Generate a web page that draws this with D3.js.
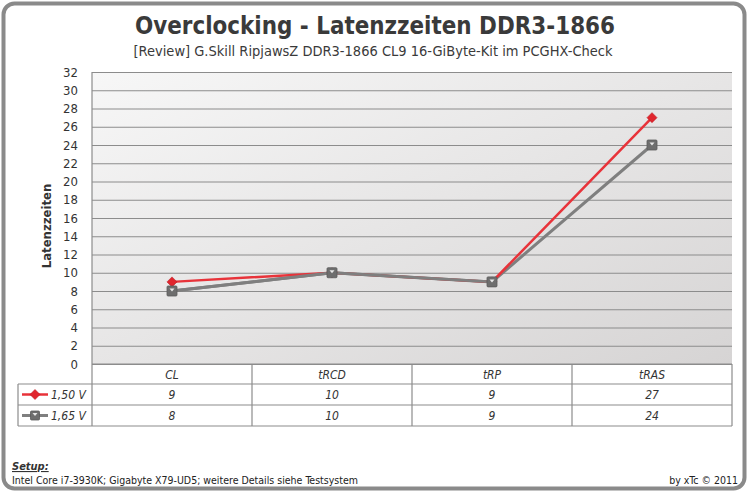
<!DOCTYPE html>
<html lang="en">
<head>
    <meta charset="UTF-8">
    <title>Overclocking - Latenzzeiten DDR3-1866</title>
    <script type='text/javascript' src='https://d3js.org/d3.v7.min.js'></script>
    <style>
        body { margin: 0; background: #fff; }
        text { font-family: "DejaVu Sans Condensed", "DejaVu Sans", sans-serif; fill: #333; }
    </style>
</head>
<body>
    <script>
        // data
        const categories = ["CL", "tRCD", "tRP", "tRAS"];
        const seriesNames = ["1,50 V", "1,65 V"];
        const values150 = [9, 10, 9, 27];
        const values165 = [8, 10, 9, 24];
        const yTicks = d3.range(0, 33, 2);

        const W = 749, H = 493;
        const plot = { left: 92, right: 732, top: 72, bottom: 364 };
        const rowH = 21;

        const svg = d3.select("body").append("svg")
            .attr("width", W).attr("height", H);

        // background gradient of the plot area
        const defs = svg.append("defs");
        const grad = defs.append("linearGradient").attr("id", "bg")
            .attr("x1", "0").attr("y1", "0").attr("x2", "1").attr("y2", "1");
        grad.append("stop").attr("offset", "0").attr("stop-color", "#f7f7f7");
        grad.append("stop").attr("offset", "1").attr("stop-color", "#d6d4d4");

        // outer frame
        svg.append("rect")
            .attr("x", 3.5).attr("y", 3.5).attr("width", 741).attr("height", 485)
            .attr("rx", 11).attr("fill", "#fff")
            .attr("stroke", "#8a8a8a").attr("stroke-width", 4);

        // title
        svg.append("text").attr("x", 375).attr("y", 34)
            .attr("text-anchor", "middle").attr("font-size", 25).attr("font-weight", "bold")
            .attr("textLength", 480).attr("lengthAdjust", "spacingAndGlyphs")
            .style("fill", "#3a3a3a")
            .text("Overclocking - Latenzzeiten DDR3-1866");
        svg.append("text").attr("x", 373).attr("y", 56)
            .attr("text-anchor", "middle").attr("font-size", 14)
            .attr("textLength", 479).attr("lengthAdjust", "spacingAndGlyphs")
            .style("fill", "#3a3a3a")
            .text("[Review] G.Skill RipjawsZ DDR3-1866 CL9 16-GiByte-Kit im PCGHX-Check");

        // scales
        const x = d3.scaleBand().domain(categories).range([plot.left, plot.right]);
        const y = d3.scaleLinear().domain([0, 32]).range([plot.bottom, plot.top]);

        svg.append("rect")
            .attr("x", plot.left).attr("y", plot.top)
            .attr("width", plot.right - plot.left).attr("height", plot.bottom - plot.top)
            .attr("fill", "url(#bg)");

        // gridlines + y axis
        const yAxis = svg.append("g")
            .attr("transform", "translate(" + plot.left + ",0)")
            .call(d3.axisLeft(y).tickValues(yTicks).tickSize(-(plot.right - plot.left)).tickPadding(14));
        yAxis.select(".domain").remove();
        yAxis.selectAll(".tick line").attr("stroke", "#8c8c8c").attr("stroke-width", 1.2);
        yAxis.selectAll(".tick text").attr("font-size", 13)
            .style("font-family", "'DejaVu Sans Condensed', sans-serif").style("fill", "#333");

        svg.append("line")
            .attr("x1", plot.left).attr("x2", plot.left)
            .attr("y1", plot.top).attr("y2", plot.bottom)
            .attr("stroke", "#8c8c8c").attr("stroke-width", 1.2);

        svg.append("text")
            .attr("transform", "translate(51," + ((plot.top + plot.bottom) / 2 + 8) + ") rotate(-90)")
            .attr("text-anchor", "middle").attr("font-size", 13).attr("font-weight", "bold")
            .text("Latenzzeiten");

        // lines
        const cx = d => x(d) + x.bandwidth() / 2;
        const line = d3.line().x((d, i) => cx(categories[i])).y(d => y(d));

        svg.append("path").datum(values165).attr("d", line)
            .attr("fill", "none").attr("stroke", "#7f7f7f").attr("stroke-width", 3);
        svg.append("path").datum(values150).attr("d", line)
            .attr("fill", "none").attr("stroke", "#e8333a").attr("stroke-width", 2.5);

        // the gray line sits on top of the red one where both share a value
        svg.append("path").datum(values165).attr("d", line)
            .attr("fill", "none").attr("stroke", "#7f7f7f").attr("stroke-width", 3)
            .attr("stroke-dasharray", function () {
                // only the first three segments overlay (CL->tRCD->tRP)
                const len = this.getTotalLength();
                const seg = Math.hypot(cx(categories[3]) - cx(categories[2]), y(values165[3]) - y(values165[2]));
                return (len - seg) + " " + (seg + 10);
            });

        // markers
        function square(g, px, py, s) {
            g.append("rect").attr("x", px - s / 2).attr("y", py - s / 2)
                .attr("width", s).attr("height", s).attr("rx", 1)
                .attr("fill", "#6e6e6e").attr("stroke", "#5a5a5a").attr("stroke-width", 0.8);
            g.append("path")
                .attr("d", "M" + (px - 2.5) + "," + (py - 2.5) + "L" + (px + 2.5) + "," + (py - 2.5) + "L" + px + "," + (py + 0.5) + "Z")
                .attr("fill", "#e8e8e8");
        }
        function diamond(g, px, py, s) {
            g.append("path")
                .attr("d", "M" + px + "," + (py - s) + "L" + (px + s) + "," + py + "L" + px + "," + (py + s) + "L" + (px - s) + "," + py + "Z")
                .attr("fill", "#e0262e").attr("stroke", "#c01820").attr("stroke-width", 0.6);
        }
        const mk = svg.append("g");
        values150.forEach((v, i) => diamond(mk, cx(categories[i]), y(v), 5));
        values165.forEach((v, i) => square(mk, cx(categories[i]), y(v), 10));

        // data table
        const tLeft = 18;
        const t = svg.append("g");
        const tStroke = "#8c8c8c";
        const rowsY = [plot.bottom, plot.bottom + 20, plot.bottom + 20 + rowH, plot.bottom + 20 + 2 * rowH];
        // horizontal lines
        t.append("line").attr("x1", plot.left).attr("x2", plot.right)
            .attr("y1", rowsY[0]).attr("y2", rowsY[0]).attr("stroke", tStroke).attr("stroke-width", 1.2);
        [1, 2, 3].forEach(k => {
            t.append("line").attr("x1", tLeft).attr("x2", plot.right)
                .attr("y1", rowsY[k]).attr("y2", rowsY[k]).attr("stroke", tStroke).attr("stroke-width", 1.2);
        });
        // vertical lines
        t.append("line").attr("x1", tLeft).attr("x2", tLeft)
            .attr("y1", rowsY[1]).attr("y2", rowsY[3]).attr("stroke", tStroke).attr("stroke-width", 1.2);
        categories.concat(["end"]).forEach((c, i) => {
            const xx = i < categories.length ? x(c) : plot.right;
            t.append("line").attr("x1", xx).attr("x2", xx)
                .attr("y1", rowsY[0]).attr("y2", rowsY[3]).attr("stroke", tStroke).attr("stroke-width", 1.2);
        });

        const cellText = (xx, yy, s) => t.append("text").attr("x", xx).attr("y", yy)
            .attr("text-anchor", "middle").attr("font-size", 12).attr("font-style", "italic")
            .style("fill", "#333").text(s);
        categories.forEach((c, i) => {
            cellText(cx(c), rowsY[0] + 15, c);
            cellText(cx(c), rowsY[1] + 15, values150[i]);
            cellText(cx(c), rowsY[2] + 15, values165[i]);
        });

        // legend keys in the table
        const ly1 = (rowsY[1] + rowsY[2]) / 2, ly2 = (rowsY[2] + rowsY[3]) / 2;
        t.append("line").attr("x1", 22).attr("x2", 48).attr("y1", ly1).attr("y2", ly1)
            .attr("stroke", "#e8333a").attr("stroke-width", 2.5);
        diamond(t, 35, ly1, 5);
        t.append("line").attr("x1", 22).attr("x2", 48).attr("y1", ly2).attr("y2", ly2)
            .attr("stroke", "#7f7f7f").attr("stroke-width", 3);
        square(t, 35, ly2, 9);
        seriesNames.forEach((s, i) => {
            t.append("text").attr("x", 51).attr("y", rowsY[i + 1] + 15)
                .attr("font-size", 12).attr("font-style", "italic").style("fill", "#333").text(s);
        });

        // footer
        svg.append("text").attr("x", 12).attr("y", 470)
            .attr("font-size", 11).attr("font-weight", "bold").attr("font-style", "italic")
            .attr("text-decoration", "underline").style("fill", "#333").text("Setup:");
        svg.append("text").attr("x", 12).attr("y", 484)
            .attr("font-size", 10.5).style("fill", "#222")
            .text("Intel Core i7-3930K; Gigabyte X79-UD5; weitere Details siehe Testsystem");
        svg.append("text").attr("x", 738).attr("y", 484).attr("text-anchor", "end")
            .attr("font-size", 10.5).style("fill", "#222").text("by xTc \u00a9 2011");
    </script>
</body>
</html>
